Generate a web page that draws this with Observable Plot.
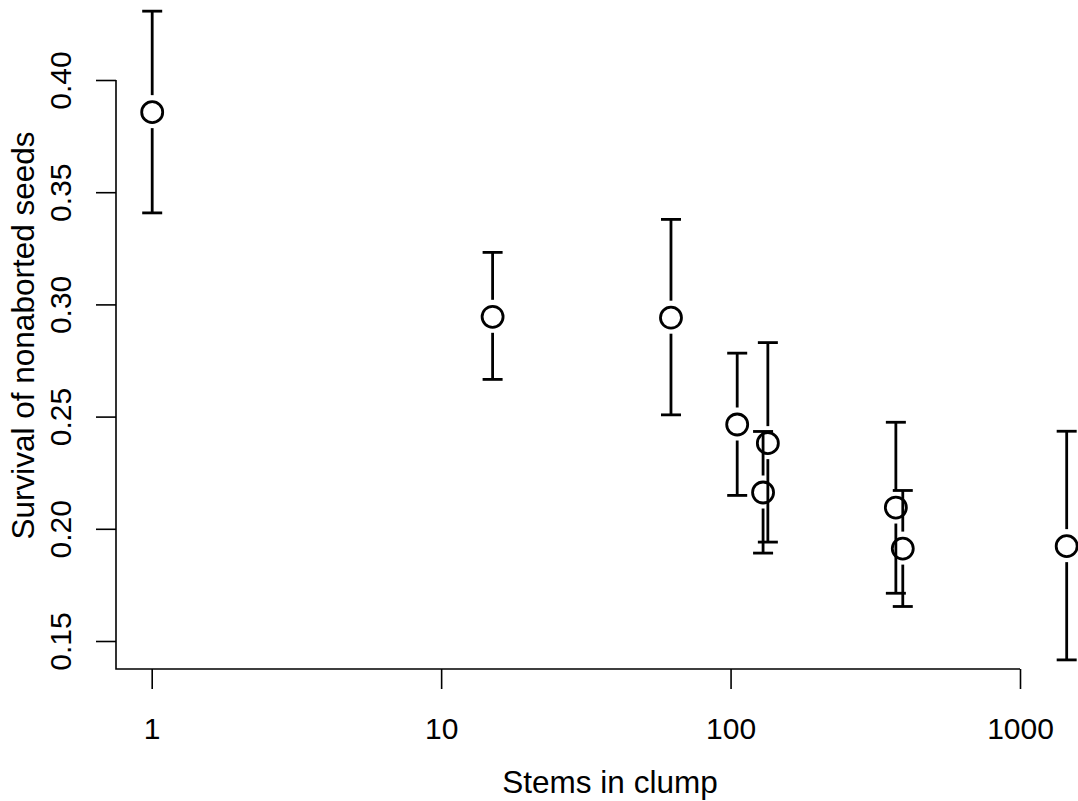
<!DOCTYPE html>
<html>
<head>
<meta charset="utf-8">
<script src="https://cdn.jsdelivr.net/npm/d3@7"></script>
<script src="https://cdn.jsdelivr.net/npm/@observablehq/plot@0.6"></script>
<style>
  html, body { margin: 0; padding: 0; background: #fff; }
  svg { display: block; }
</style>
</head>
<body>
<div id="chart"></div>
<script>
// Data
const stems    = [1, 15, 62, 105, 129, 134, 371, 392, 1444];
const survival = [0.3859, 0.2947, 0.2943, 0.2467, 0.2164, 0.2384, 0.2097, 0.1914, 0.1925];
const upper    = [0.4309, 0.3234, 0.3381, 0.2785, 0.2436, 0.2832, 0.2477, 0.2173, 0.2437];
const lower    = [0.3410, 0.2668, 0.2510, 0.2151, 0.1894, 0.1943, 0.1715, 0.1656, 0.1418];

const xTicks = [1, 10, 100, 1000];
const yTicks = [0.15, 0.20, 0.25, 0.30, 0.35, 0.40];
const xLabel = "Stems in clump";
const yLabel = "Survival of nonaborted seeds";

const data = stems.map((s, i) => ({stems: s, survival: survival[i], upper: upper[i], lower: lower[i]}));

const W = 1078, H = 801;
const marginLeft = 116, marginBottom = 132, marginTop = 0, marginRight = 0;
const FS = 30;      // tick labels
const FL = 31.5;    // axis titles
const LW = 2.8;
const fmt = d3.format(".2f");

const capSymbol = {
  draw(context, size) {
    const r = Math.sqrt(size / Math.PI);
    context.moveTo(-r, 0);
    context.lineTo(r, 0);
  }
};

const chart = Plot.plot({
  width: W,
  height: H,
  marginLeft, marginBottom, marginTop, marginRight,
  style: {fontFamily: "'Liberation Sans', Arial, Helvetica, sans-serif", fontSize: FS + "px", color: "#000", background: "#fff", overflow: "visible"},
  x: {type: "log", domain: [1, 1000], range: [151.7, 1020]},
  y: {domain: [0.15, 0.40], range: [641, 80]},
  marks: [
    Plot.axisX({ticks: xTicks, tickSize: 20, tickPadding: 28, tickFormat: d => String(d), fontSize: FS, label: null, strokeWidth: 1.6}),
    Plot.axisY({ticks: yTicks, tickSize: 20, tickPadding: 26, tickRotate: -90, textAnchor: "middle", lineAnchor: "bottom", tickFormat: fmt, fontSize: FS, label: null, strokeWidth: 1.6}),
    Plot.ruleX(data, {x: "stems", y1: "upper", y2: "survival", insetBottom: 16.5, stroke: "#000", strokeWidth: LW}),
    Plot.ruleX(data, {x: "stems", y1: "survival", y2: "lower", insetTop: 16.5, stroke: "#000", strokeWidth: LW}),
    Plot.dot(data, {x: "stems", y: "upper", r: 10, symbol: capSymbol, stroke: "#000", strokeWidth: LW, fill: "none"}),
    Plot.dot(data, {x: "stems", y: "lower", r: 10, symbol: capSymbol, stroke: "#000", strokeWidth: LW, fill: "none"}),
    Plot.dot(data, {x: "stems", y: "survival", r: 10.5, stroke: "#000", strokeWidth: LW, fill: "none"}),
    Plot.text([xLabel], {frameAnchor: "bottom", text: d => d, dx: 609.5 - (marginLeft + W - marginRight) / 2, dy: 123, lineAnchor: "bottom", textAnchor: "middle", fontSize: FL, fill: "#000"}),
    Plot.text([yLabel], {frameAnchor: "left", text: d => d, rotate: -90, dx: -83, dy: 335 - (marginTop + H - marginBottom) / 2, lineAnchor: "bottom", textAnchor: "middle", fontSize: FL, fill: "#000"})
  ]
});

// L-shaped axis lines drawn through the plot's own scales
const sx = chart.scale("x"), sy = chart.scale("y");
const yb = H - marginBottom;
d3.select(chart).append("path")
  .attr("d", `M${marginLeft},${sy.apply(yTicks[yTicks.length - 1])}V${yb}H${sx.apply(xTicks[xTicks.length - 1])}`)
  .attr("fill", "none")
  .attr("stroke", "#000")
  .attr("stroke-width", 1.6);

document.getElementById("chart").appendChild(chart);
</script>
</body>
</html>
